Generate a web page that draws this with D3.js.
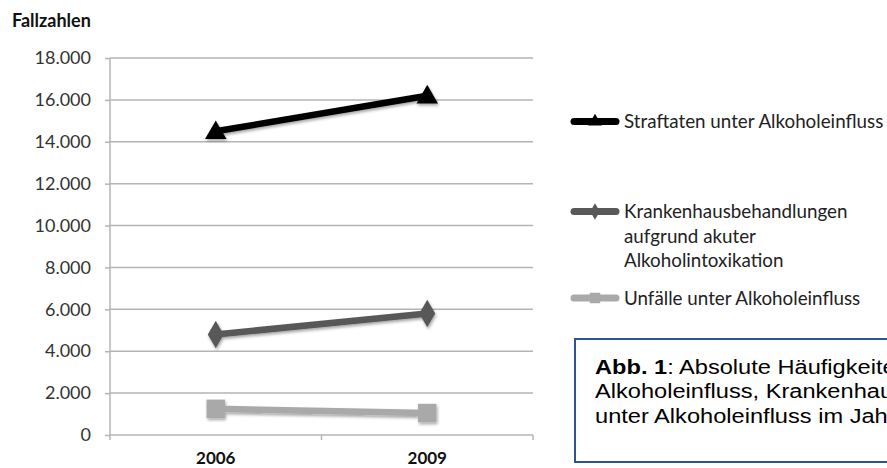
<!DOCTYPE html>
<html><head><meta charset="utf-8">
<script src="https://cdn.jsdelivr.net/npm/d3@7"></script>
<style>body{margin:0;background:#fff;overflow:hidden}svg{display:block}</style>
</head><body>
<svg id="c" width="887" height="468"></svg>
<script>
const years = ["2006", "2009"];
const straftaten = [14500, 16200];
const krankenhaus = [4800, 5800];
const unfaelle = [1250, 1050];
const yTicks = [0, 2000, 4000, 6000, 8000, 10000, 12000, 14000, 16000, 18000];
const seriesNames = ["Straftaten unter Alkoholeinfluss", ["Krankenhausbehandlungen", "aufgrund akuter", "Alkoholintoxikation"], "Unfälle unter Alkoholeinfluss"];
const seriesColors = ["#000000", "#595959", "#a9a9a9"];
const seriesSymbols = ["triangle", "diamond", "square"];
const yTitle = "Fallzahlen";
const captionBold = "Abb. 1";
const captionLines = [": Absolute Häufigkeiten von Straftaten unter", "Alkoholeinfluss, Krankenhausbehandlungen und Unfällen", "unter Alkoholeinfluss im Jahr 2006 und 2009"];

const series = [straftaten, krankenhaus, unfaelle];
const svg = d3.select("#c");
const defs = svg.append("defs");
const f = defs.append("filter").attr("id","sh").attr("x","-50%").attr("y","-50%").attr("width","200%").attr("height","200%");
f.append("feDropShadow").attr("dx",1).attr("dy",2).attr("stdDeviation",1.5).attr("flood-color","#000").attr("flood-opacity",0.35);

const x = d3.scaleBand().domain(years).range([110, 533]);
const y = d3.scaleLinear().domain([0, 18000]).range([435, 58]);
const fmt = v => d3.format(",")(v).replace(/,/g, ".");

// gridlines
svg.append("g").selectAll("line").data(yTicks.filter(d => d > 0)).join("line")
  .attr("x1", 110).attr("x2", 533).attr("y1", d => y(d)).attr("y2", d => y(d))
  .attr("stroke", "#b4b4b4").attr("stroke-width", 1.5);

// y axis
const ya = svg.append("g").attr("transform", "translate(110,0)")
  .call(d3.axisLeft(y).tickValues(yTicks).tickFormat(fmt).tickSize(5).tickPadding(14));
ya.select(".domain").attr("stroke", "#b4b4b4").attr("stroke-width", 1.5).attr("d", "M0,58V435");
ya.selectAll(".tick line").attr("stroke", "#b4b4b4").attr("stroke-width", 1.5);
ya.selectAll(".tick text").attr("fill", "#333").style("font-family", "Lato").style("font-size", "18px");

// x axis
const xa = svg.append("g").attr("transform", "translate(0,435)");
xa.append("line").attr("x1", 110).attr("x2", 533).attr("stroke", "#b4b4b4").attr("stroke-width", 1.5);
xa.selectAll("line.tk").data([...years.map(d => x(d)), 533]).join("line").attr("class","tk")
  .attr("x1", d => d).attr("x2", d => d).attr("y1", 0).attr("y2", 5)
  .attr("stroke", "#b4b4b4").attr("stroke-width", 1.5);
xa.selectAll("text").data(years).join("text")
  .attr("x", d => x(d) + x.bandwidth()/2).attr("y", 29).attr("text-anchor", "middle")
  .style("font-family", "Lato").style("font-weight", "bold").style("font-size", "17px").attr("fill", "#111")
  .text(d => d);

// title
svg.append("text").attr("x", 12).attr("y", 27).text(yTitle)
  .style("font-family", "Lato").style("font-weight", "bold").style("font-size", "18px").attr("fill", "#111");

const symType = {triangle: d3.symbolTriangle, diamond: d3.symbolDiamond, square: d3.symbolSquare};
const symSize = {triangle: 200, diamond: 220, square: 340};
const line = d3.line().x((d, i) => x(years[i]) + x.bandwidth()/2).y(d => y(d));

series.forEach((vals, s) => {
  const g = svg.append("g").attr("filter", "url(#sh)");
  g.append("path").attr("d", line(vals)).attr("fill", "none")
    .attr("stroke", seriesColors[s]).attr("stroke-width", 6.5);
  g.selectAll("path.m").data(vals).join("path").attr("class", "m")
    .attr("transform", (d, i) => `translate(${x(years[i]) + x.bandwidth()/2},${y(d) + (seriesSymbols[s]==="triangle" ? 1.5 : 0)})`)
    .attr("d", d3.symbol().type(symType[seriesSymbols[s]]).size(symSize[seriesSymbols[s]]))
    .attr("fill", seriesColors[s]);
});

// legend
const legY = [121.5, 211.5, 298];
const legBase = [128, 218, 305];
seriesNames.forEach((name, s) => {
  const g = svg.append("g");
  g.append("line").attr("x1", 574).attr("x2", 616).attr("y1", legY[s]).attr("y2", legY[s])
    .attr("stroke", seriesColors[s]).attr("stroke-width", 7).attr("stroke-linecap", "round");
  g.append("path").attr("transform", `translate(595,${legY[s]})`)
    .attr("d", d3.symbol().type(symType[seriesSymbols[s]]).size(s===2 ? 110 : 80)).attr("fill", seriesColors[s]);
  const lines = Array.isArray(name) ? name : [name];
  lines.forEach((t, i) => {
    g.append("text").attr("x", 624).attr("y", legBase[s] + i * 24.5).text(t)
      .style("font-family", "Lato").style("font-size", "18.8px").attr("fill", "#222");
  });
});

// caption box
svg.append("rect").attr("x", 575).attr("y", 339).attr("width", 400).attr("height", 123)
  .attr("fill", "#fff").attr("stroke", "#2e5593").attr("stroke-width", 2);
const cap = svg.append("g").attr("transform", "translate(595,0) scale(1.125,1)")
  .style("font-family", "'Liberation Sans', Arial").style("font-size", "21px").attr("fill", "#000");
captionLines.forEach((t, i) => {
  const tx = cap.append("text").attr("x", 0).attr("y", 374 + i * 24.5);
  if (i === 0) tx.append("tspan").style("font-weight", "bold").text(captionBold);
  tx.append("tspan").text(t);
});
</script>
</body></html>
